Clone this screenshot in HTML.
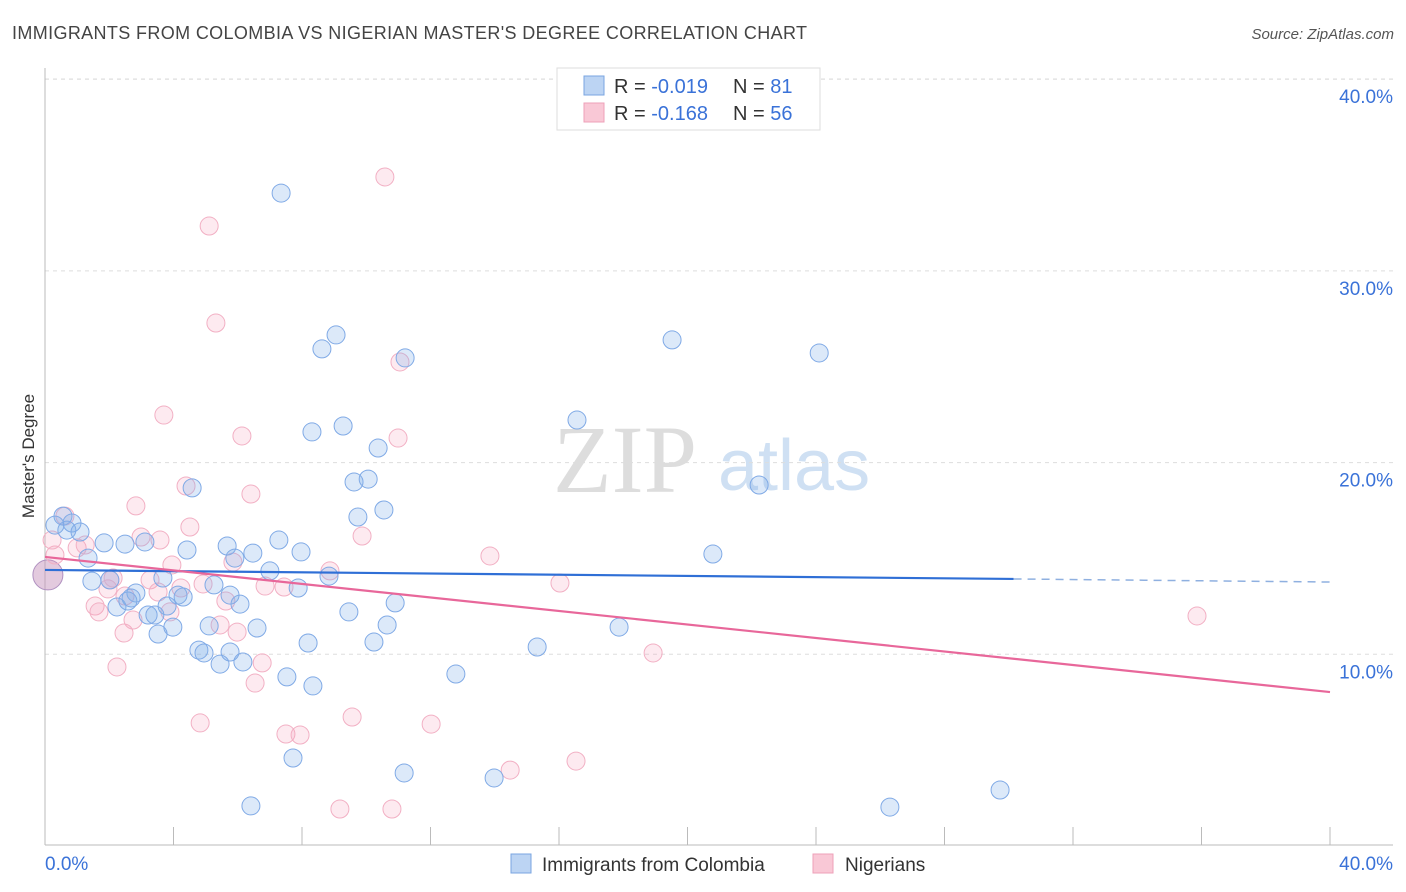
<!DOCTYPE html>
<html><head><meta charset="utf-8">
<style>
body{margin:0;background:#fff;font-family:"Liberation Sans",sans-serif;}
svg{display:block}
</style></head>
<body>
<svg id="chart" width="1406" height="892" xmlns="http://www.w3.org/2000/svg">
<text x="12" y="39" font-size="18" fill="#444" textLength="795">IMMIGRANTS FROM COLOMBIA VS NIGERIAN MASTER'S DEGREE CORRELATION CHART</text>
<text x="1394" y="39" font-size="15" fill="#555" font-style="italic" text-anchor="end">Source: ZipAtlas.com</text>
<text x="34" y="456" font-size="17" fill="#333" text-anchor="middle" transform="rotate(-90 34 456)">Master's Degree</text>
<g>
<text x="553" y="492" font-size="96" fill="#ddd" font-family="Liberation Serif,serif">ZIP</text>
<text x="718" y="490" font-size="72" fill="#cfe0f3">atlas</text>
</g>
<g id="grid"></g><g id="axes"></g><g id="marks"></g><g id="trends"></g>
<g>
<rect x="557" y="68" width="263" height="62" fill="#fff" stroke="#ddd"/>
<rect x="584" y="76" width="20" height="19" fill="#bcd4f3" stroke="#7aa5e0"/>
<rect x="584" y="103" width="20" height="19" fill="#f9c8d6" stroke="#eea0b8"/>
<text x="614" y="93" font-size="20" fill="#333">R = <tspan fill="#3a72d8">-0.019</tspan><tspan x="733">N = </tspan><tspan fill="#3a72d8">81</tspan></text>
<text x="614" y="120" font-size="20" fill="#333">R = <tspan fill="#3a72d8"> -0.168</tspan><tspan x="733">N = </tspan><tspan fill="#3a72d8">56</tspan></text>
</g>
<g>
<rect x="511" y="854" width="20" height="19" fill="#bcd4f3" stroke="#7aa5e0"/>
<text x="542" y="871" font-size="19" fill="#333">Immigrants from Colombia</text>
<rect x="813" y="854" width="20" height="19" fill="#f9c8d6" stroke="#eea0b8"/>
<text x="845" y="871" font-size="19" fill="#333">Nigerians</text>
</g>
</svg>
<script>
const blueX=[7.35,9.06,8.62,11.21,19.52,24.10,16.56,8.31,9.28,10.37,9.62,10.06,22.23,4.58,9.74,10.55,0.56,0.84,0.68,1.09,0.31,1.84,2.49,3.11,4.42,5.67,7.28,7.97,6.47,5.91,20.79,1.34,2.02,1.46,3.67,5.26,7.00,7.88,8.84,2.83,2.68,4.14,4.30,6.07,10.90,2.24,3.80,3.21,3.42,9.46,5.76,2.58,5.11,6.60,3.98,10.65,17.87,3.52,8.19,10.24,15.32,4.79,4.95,5.76,5.45,6.16,12.79,7.53,8.34,7.72,11.18,13.98,6.41,26.30,29.73];
const blueY=[34.06,26.66,25.93,25.46,26.40,25.72,22.22,21.60,21.91,20.76,18.99,19.14,18.83,18.68,17.16,17.53,17.21,16.85,16.48,16.38,16.74,15.81,15.75,15.86,15.44,15.65,15.96,15.34,15.28,15.02,15.23,15.02,13.88,13.82,13.98,13.62,14.35,13.46,14.08,13.20,12.94,13.09,12.99,12.62,12.68,12.47,12.52,12.05,12.05,12.21,13.09,12.78,11.48,11.37,11.42,11.53,11.42,11.06,10.59,10.64,10.38,10.22,10.07,10.12,9.49,9.60,8.97,8.82,8.35,4.59,3.81,3.55,2.09,2.03,2.92];
const pinkX=[10.58,5.11,5.32,11.05,3.70,6.13,10.99,4.39,6.41,2.83,0.62,4.51,9.87,2.99,1.00,13.85,3.95,5.85,8.87,3.27,16.03,4.92,7.44,2.02,3.52,4.23,2.49,1.96,5.63,1.56,1.68,3.89,5.45,2.46,5.98,18.93,2.24,6.76,6.54,4.83,9.56,12.02,7.50,7.94,14.48,16.53,9.18,10.80,35.86,0.31,0.22,1.25,2.12,6.85,2.74,3.58];
const pinkY=[34.90,32.34,27.28,25.25,22.48,21.39,21.28,18.78,18.36,17.74,17.21,16.64,16.17,16.12,15.55,15.13,14.66,14.81,14.35,13.88,13.72,13.67,13.51,13.88,13.25,13.46,13.04,13.41,12.78,12.52,12.21,12.21,11.53,11.11,11.16,10.07,9.34,9.55,8.50,6.42,6.73,6.36,5.84,5.79,3.96,4.43,1.93,1.93,12.00,15.18,15.96,15.70,13.98,13.56,11.79,15.96];
const bigX=[0.09];const bigY=[14.14];
const blueTrend=[14.40,13.93,13.77]; const blueTrendX=[0,30.15,40];
const pinkTrend=[15.08,8.03]; const pinkTrendX=[0,40];
const yTicks=[10,20,30,40]; const yTickLabels=["10.0%","20.0%","30.0%","40.0%"];
const xTicks=[4,8,12,16,20,24,28,32,36,40];

const NS="http://www.w3.org/2000/svg";
const sx=v=>45+v*1285/40;
const sy=v=>846-v*19.17;
function mk(parent,tag,attrs){const e=document.createElementNS(NS,tag);for(const k in attrs)e.setAttribute(k,attrs[k]);document.getElementById(parent).appendChild(e);return e;}
yTicks.forEach((t,i)=>{
 const l=mk('grid','line',{x1:45,x2:1393,y1:sy(t),y2:sy(t),stroke:'#ddd','stroke-dasharray':'4,4'});
 
 
 const tx=mk('grid','text',{x:1393,y:sy(t)+24,'font-size':19,fill:'#3a72d8','text-anchor':'end'});
 tx.textContent=yTickLabels[i];
 
 
});
const gTop=mk('grid','line',{x1:45,x2:1393,y1:79,y2:79,stroke:'#ddd','stroke-dasharray':'4,4'});


const xa=mk('axes','line',{x1:45,x2:1393,y1:845,y2:845,stroke:'#bbb'});


const ya=mk('axes','line',{x1:45,x2:45,y1:68,y2:845,stroke:'#bbb'});


xTicks.forEach(t=>{const l=mk('axes','line',{x1:sx(t),x2:sx(t),y1:827,y2:845,stroke:'#bbb'});
 
 });
const xl0=mk('axes','text',{x:45,y:870,'font-size':19,fill:'#3a72d8'});xl0.textContent='0.0%';


const xl1=mk('axes','text',{x:1393,y:870,'font-size':19,fill:'#3a72d8','text-anchor':'end'});xl1.textContent='40.0%';


function dots(X,Y,fill,stroke,name,r){X.forEach((x,i)=>{const c=mk('marks','circle',{cx:sx(x),cy:sy(Y[i]),r:r,fill:fill,stroke:stroke,'stroke-width':1});
 
 });}
dots(bigX,bigY,'rgba(200,150,190,0.5)','#b090c0','point-large',15);
dots(pinkX,pinkY,'rgba(245,160,185,0.22)','#f2b0c4','point-nigerians',9);
dots(blueX,blueY,'rgba(130,175,235,0.28)','#80aae6','point-colombia',9);
const bl=mk('trends','line',{x1:sx(blueTrendX[0]),y1:sy(blueTrend[0]),x2:sx(blueTrendX[1]),y2:sy(blueTrend[1]),stroke:'#2f6fd6','stroke-width':2.2});


const bd=mk('trends','line',{x1:sx(blueTrendX[1]),y1:sy(blueTrend[1]),x2:sx(blueTrendX[2]),y2:sy(blueTrend[2]),stroke:'#8fb0e0','stroke-width':1.5,'stroke-dasharray':'8,6'});


const pl=mk('trends','line',{x1:sx(pinkTrendX[0]),y1:sy(pinkTrend[0]),x2:sx(pinkTrendX[1]),y2:sy(pinkTrend[1]),stroke:'#e8679a','stroke-width':2.2});


</script>
</body></html>
